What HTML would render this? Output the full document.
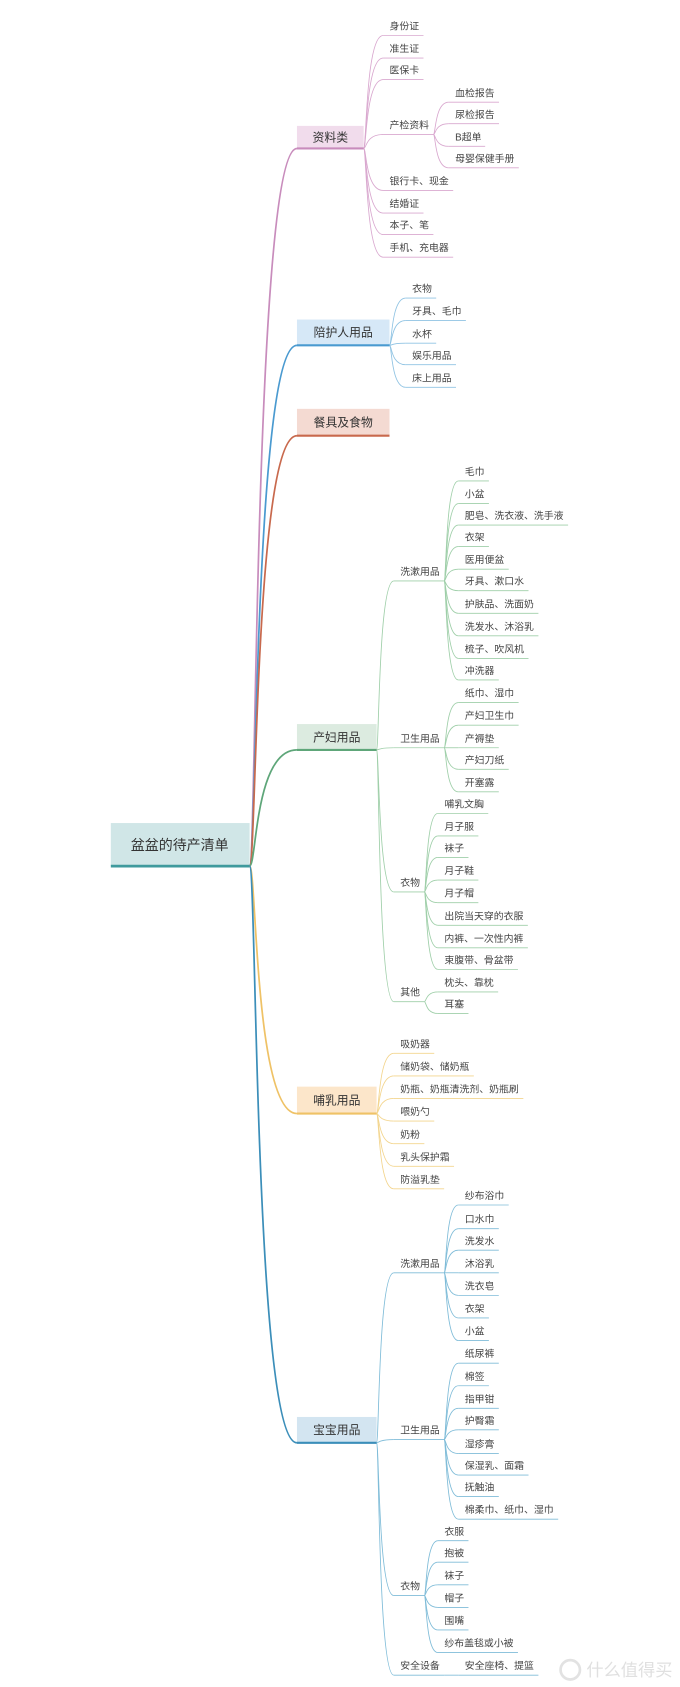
<!DOCTYPE html>
<html><head><meta charset="utf-8"><style>
html,body{margin:0;padding:0;background:#fff;width:680px;height:1687px;overflow:hidden}
svg{display:block}
text{font-family:"Liberation Sans","Noto Sans CJK SC",sans-serif;fill:#444}
</style></head><body>
<svg id="s" width="680" height="1687" viewBox="0 0 632 1568" preserveAspectRatio="none" xmlns="http://www.w3.org/2000/svg"></svg>
<script>
var S=document.getElementById('s'),NS='http://www.w3.org/2000/svg';
function el(t,a,txt){var e=document.createElementNS(NS,t);for(var k in a)e.setAttribute(k,a[k]);if(txt)e.textContent=txt;S.appendChild(e);return e;}
function tw(s,f){var w=0;for(var c of s){w+= /[\x00-\x7f]/.test(c)?f*0.6:f;}return w;}
function curve(px,py,x,y,c,w){el('path',{d:'M'+px+','+py+' C'+(px+(x-px)*0.15)+','+py+' '+(px+(x-px)*0.1)+','+y+' '+x+','+y,fill:'none',stroke:c,'stroke-width':w||0.8});}
function leaf(px,py,x,y,label,c){var f=9.2,w=tw(label,f);curve(px,py,x-6,y+9,c);el('line',{x1:x-6,y1:y+9,x2:x+w+4,y2:y+9,stroke:c,'stroke-width':0.8});el('text',{x:x,y:y+3.5,'font-size':f},label);return [x+w+4,y+9];}
function main(y1,y2,x2,label,fill,lc){curve(232,805,276,y2,lc,1.6);el('rect',{x:276,y:y1,width:x2-276,height:y2-y1,fill:fill});el('line',{x1:276,y1:y2,x2:x2,y2:y2,stroke:lc,'stroke-width':2});el('text',{x:(276+x2)/2,y:(y1+y2)/2+4,'font-size':11,'text-anchor':'middle',style:'fill:#333'},label);return [x2,y2];}
el('rect',{x:103,y:765,width:129,height:40,fill:'#d0e6e7'});
el('line',{x1:103,y1:805,x2:232,y2:805,stroke:'#3f9a9d','stroke-width':2.5});
el('text',{x:167,y:790,'font-size':13,'text-anchor':'middle',style:'fill:#333'},'盆盆的待产清单');
var p,q,c;
c='#d9a8cf';p=main(117,138,338,'资料类','#f1dcec','#c88cbc');
[['身份证',24],['准生证',45],['医保卡',65]].forEach(function(a){leaf(p[0],p[1],362,a[1],a[0],c)});
q=leaf(p[0],p[1],362,116,'产检资料',c);
[['血检报告',86],['尿检报告',106],['B超单',127],['母婴保健手册',147]].forEach(function(a){leaf(q[0],q[1],423,a[1],a[0],c)});
[['银行卡、现金',168],['结婚证',189],['本子、笔',209],['手机、充电器',230]].forEach(function(a){leaf(p[0],p[1],362,a[1],a[0],c)});
c='#8fc3e3';p=main(297,321,362,'陪护人用品','#d6e8f7','#4a9ad0');
[['衣物',268],['牙具、毛巾',289],['水杯',310],['娱乐用品',330],['床上用品',351]].forEach(function(a){leaf(p[0],p[1],383,a[1],a[0],c)});
main(380,405,362,'餐具及食物','#f4dad2','#c8694d');
c='#9fcfa9';p=main(673,697,350,'产妇用品','#dcebe0','#5ea679');
q=leaf(p[0],p[1],372,531,'洗漱用品',c);
[['毛巾',438],['小盆',459],['肥皂、洗衣液、洗手液',479],['衣架',499],['医用便盆',520],['牙具、漱口水',540],['护肤品、洗面奶',561],['洗发水、沐浴乳',582],['梳子、吹风机',603],['冲洗器',623]].forEach(function(a){leaf(q[0],q[1],432,a[1],a[0],c)});
q=leaf(p[0],p[1],372,686,'卫生用品',c);
[['纸巾、湿巾',644],['产妇卫生巾',665],['产褥垫',686],['产妇刀纸',706],['开塞露',727]].forEach(function(a){leaf(q[0],q[1],432,a[1],a[0],c)});
q=leaf(p[0],p[1],372,820,'衣物',c);
[['哺乳文胸',747],['月子服',768],['袜子',788],['月子鞋',809],['月子帽',830],['出院当天穿的衣服',851],['内裤、一次性内裤',872],['束腹带、骨盆带',892]].forEach(function(a){leaf(q[0],q[1],413,a[1],a[0],c)});
q=leaf(p[0],p[1],372,922,'其他',c);
[['枕头、靠枕',913],['耳塞',933]].forEach(function(a){leaf(q[0],q[1],413,a[1],a[0],c)});
c='#f3d58e';p=main(1010,1035,350,'哺乳用品','#fce6ca','#efc266');
[['吸奶器',970],['储奶袋、储奶瓶',991],['奶瓶、奶瓶清洗剂、奶瓶刷',1012],['喂奶勺',1033],['奶粉',1054],['乳头保护霜',1075],['防溢乳垫',1096]].forEach(function(a){leaf(p[0],p[1],372,a[1],a[0],c)});
c='#7fbcd8';p=main(1317,1341,350,'宝宝用品','#d3e5f1','#3b8eb9');
q=leaf(p[0],p[1],372,1174,'洗漱用品',c);
[['纱布浴巾',1111],['口水巾',1133],['洗发水',1153],['沐浴乳',1174],['洗衣皂',1195],['衣架',1216],['小盆',1237]].forEach(function(a){leaf(q[0],q[1],432,a[1],a[0],c)});
q=leaf(p[0],p[1],372,1329,'卫生用品',c);
[['纸尿裤',1258],['棉签',1279],['指甲钳',1300],['护臀霜',1320],['湿疹膏',1342],['保湿乳、面霜',1362],['抚触油',1382],['棉柔巾、纸巾、湿巾',1403]].forEach(function(a){leaf(q[0],q[1],432,a[1],a[0],c)});
q=leaf(p[0],p[1],372,1474,'衣物',c);
[['衣服',1423],['抱被',1443],['袜子',1464],['帽子',1485],['围嘴',1506],['纱布盖毯或小被',1527]].forEach(function(a){leaf(q[0],q[1],413,a[1],a[0],c)});
q=leaf(p[0],p[1],372,1548,'安全设备',c);
leaf(q[0],q[1],432,1548,'安全座椅、提篮',c);
el('circle',{cx:530,cy:1552,r:9,fill:'none',stroke:'#e2e2e2','stroke-width':2.5});
el('text',{x:545,y:1558,'font-size':16,style:'fill:#e0e0e0'},'什么值得买');
</script>
</body></html>
